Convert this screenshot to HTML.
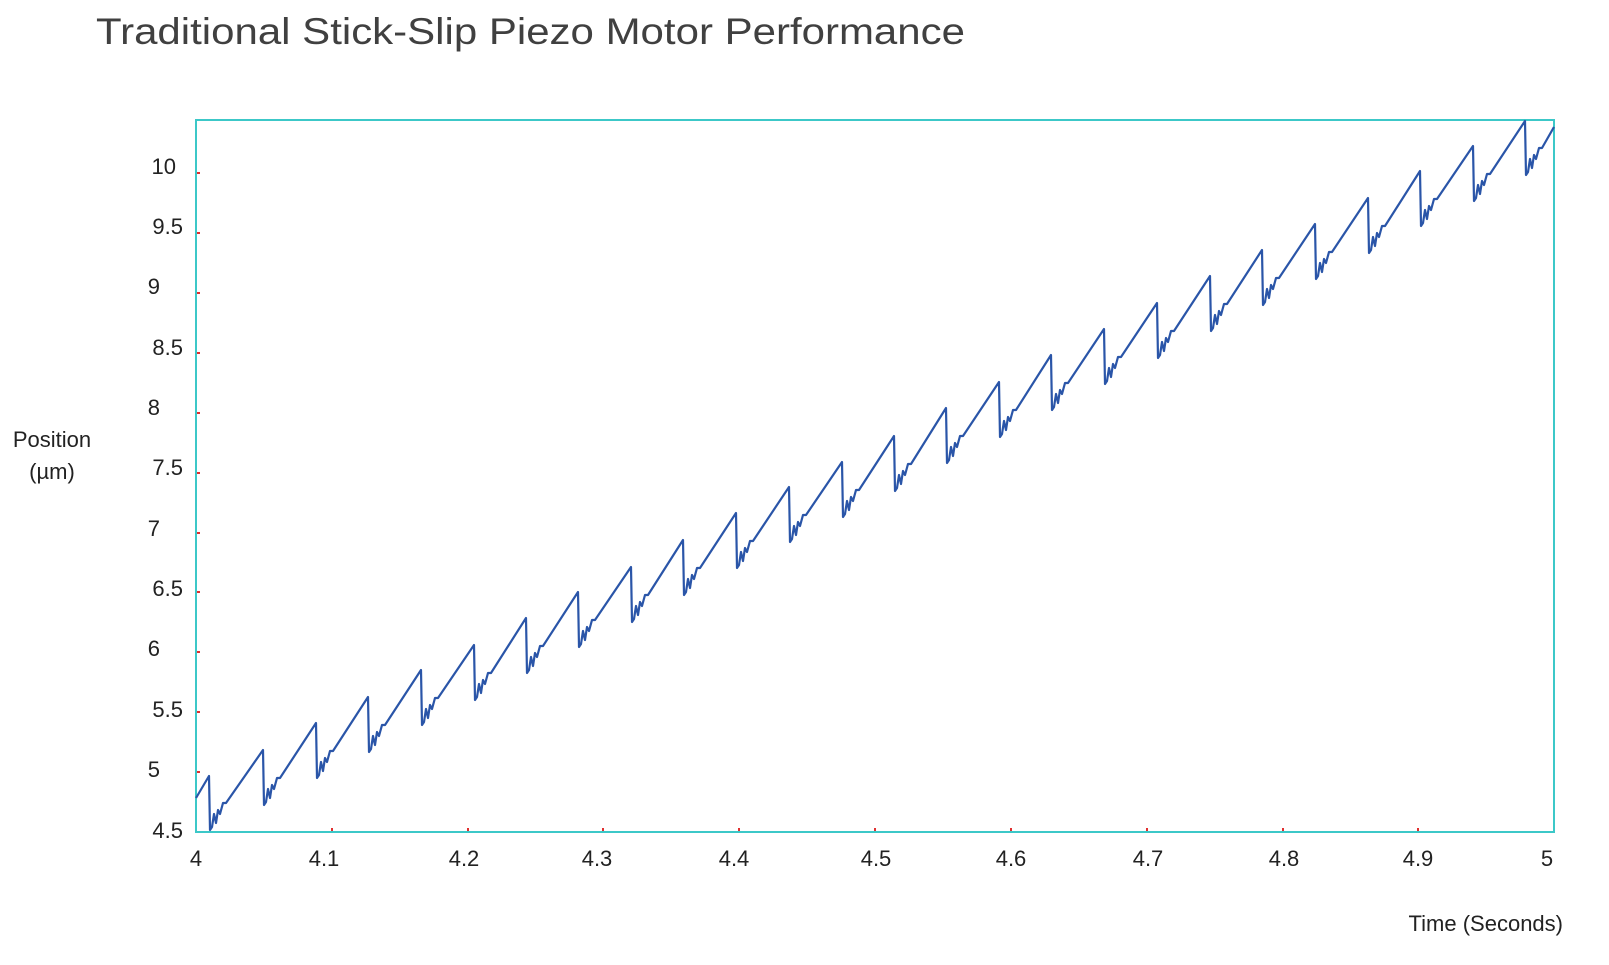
<!DOCTYPE html>
<html><head><meta charset="utf-8"><style>
html,body{margin:0;padding:0;background:#fff;width:1609px;height:965px;overflow:hidden}
svg{display:block}
text{font-family:"Liberation Sans",sans-serif;fill:#222}
</style></head><body>
<svg width="1609" height="965" viewBox="0 0 1609 965">
<text x="96" y="44" font-size="37" textLength="869" lengthAdjust="spacingAndGlyphs" style="fill:#404040">Traditional Stick-Slip Piezo Motor Performance</text>
<rect x="196" y="120" width="1358" height="712" fill="none" stroke="#3cc8c8" stroke-width="2"/>
<g font-size="22" text-anchor="end">
<text x="176" y="174">10</text><text x="183" y="234">9.5</text><text x="160" y="294">9</text>
<text x="183" y="355">8.5</text><text x="160" y="415">8</text><text x="183" y="475">7.5</text>
<text x="160" y="536">7</text><text x="183" y="596">6.5</text><text x="160" y="656">6</text>
<text x="183" y="717">5.5</text><text x="160" y="777">5</text><text x="183" y="838">4.5</text>
</g>
<g font-size="22" text-anchor="middle">
<text x="196" y="866">4</text><text x="324" y="866">4.1</text><text x="464" y="866">4.2</text>
<text x="597" y="866">4.3</text><text x="734" y="866">4.4</text><text x="876" y="866">4.5</text>
<text x="1011" y="866">4.6</text><text x="1148" y="866">4.7</text><text x="1284" y="866">4.8</text>
<text x="1418" y="866">4.9</text><text x="1547" y="866">5</text>
</g>
<text x="52" y="447" font-size="22" text-anchor="middle">Position</text>
<text x="52" y="479" font-size="22" text-anchor="middle">(µm)</text>
<text x="1563" y="931" font-size="22" text-anchor="end">Time (Seconds)</text>
<g stroke="#e03030" stroke-width="2">
<line x1="197" x2="200" y1="173" y2="173"/><line x1="197" x2="200" y1="233" y2="233"/><line x1="197" x2="200" y1="293" y2="293"/>
<line x1="197" x2="200" y1="353" y2="353"/><line x1="197" x2="200" y1="413" y2="413"/><line x1="197" x2="200" y1="473" y2="473"/>
<line x1="197" x2="200" y1="533" y2="533"/><line x1="197" x2="200" y1="592" y2="592"/><line x1="197" x2="200" y1="652" y2="652"/>
<line x1="197" x2="200" y1="712" y2="712"/><line x1="197" x2="200" y1="772" y2="772"/>
<line x1="332" x2="332" y1="828" y2="831"/><line x1="468" x2="468" y1="828" y2="831"/><line x1="603" x2="603" y1="828" y2="831"/>
<line x1="739" x2="739" y1="828" y2="831"/><line x1="875" x2="875" y1="828" y2="831"/><line x1="1011" x2="1011" y1="828" y2="831"/>
<line x1="1147" x2="1147" y1="828" y2="831"/><line x1="1283" x2="1283" y1="828" y2="831"/><line x1="1418" x2="1418" y1="828" y2="831"/>
</g>
<path fill="none" stroke="#2a55a8" stroke-width="2.2" stroke-linejoin="round" d="
M196 798 L209 776 l1 54 l2 -3 l2 -13 l2 9 l2 -13 l2 4 l3 -11 l3 0
L263 750 l1 55 l2 -3 l2 -13 l2 9 l2 -13 l2 4 l3 -11 l3 0
L316 723 l1 55 l2 -3 l2 -13 l2 9 l2 -13 l2 4 l3 -11 l3 0
L368 697 l1 55 l2 -3 l2 -13 l2 9 l2 -13 l2 4 l3 -11 l3 0
L421 670 l1 55 l2 -3 l2 -13 l2 9 l2 -13 l2 4 l3 -11 l3 0
L474 645 l1 55 l2 -3 l2 -13 l2 9 l2 -13 l2 4 l3 -11 l3 0
L526 618 l1 55 l2 -3 l2 -13 l2 9 l2 -13 l2 4 l3 -11 l3 0
L578 592 l1 55 l2 -3 l2 -13 l2 9 l2 -13 l2 4 l3 -11 l3 0
L631 567 l1 55 l2 -3 l2 -13 l2 9 l2 -13 l2 4 l3 -11 l3 0
L683 540 l1 55 l2 -3 l2 -13 l2 9 l2 -13 l2 4 l3 -11 l3 0
L736 513 l1 55 l2 -3 l2 -13 l2 9 l2 -13 l2 4 l3 -11 l3 0
L789 487 l1 55 l2 -3 l2 -13 l2 9 l2 -13 l2 4 l3 -11 l3 0
L842 462 l1 55 l2 -3 l2 -13 l2 9 l2 -13 l2 4 l3 -11 l3 0
L894 436 l1 55 l2 -3 l2 -13 l2 9 l2 -13 l2 4 l3 -11 l3 0
L946 408 l1 55 l2 -3 l2 -13 l2 9 l2 -13 l2 4 l3 -11 l3 0
L999 382 l1 55 l2 -3 l2 -13 l2 9 l2 -13 l2 4 l3 -11 l3 0
L1051 355 l1 55 l2 -3 l2 -13 l2 9 l2 -13 l2 4 l3 -11 l3 0
L1104 329 l1 55 l2 -3 l2 -13 l2 9 l2 -13 l2 4 l3 -11 l3 0
L1157 303 l1 55 l2 -3 l2 -13 l2 9 l2 -13 l2 4 l3 -11 l3 0
L1210 276 l1 55 l2 -3 l2 -13 l2 9 l2 -13 l2 4 l3 -11 l3 0
L1262 250 l1 55 l2 -3 l2 -13 l2 9 l2 -13 l2 4 l3 -11 l3 0
L1315 224 l1 55 l2 -3 l2 -13 l2 9 l2 -13 l2 4 l3 -11 l3 0
L1368 198 l1 55 l2 -3 l2 -13 l2 9 l2 -13 l2 4 l3 -11 l3 0
L1420 171 l1 55 l2 -3 l2 -13 l2 9 l2 -13 l2 4 l3 -11 l3 0
L1473 146 l1 55 l2 -3 l2 -13 l2 9 l2 -13 l2 4 l3 -11 l3 0
L1525 121 l1 54 l2 -3 l2 -13 l2 9 l2 -13 l2 4 l3 -11 l3 0
L1554 127"/>
</svg>
</body></html>
